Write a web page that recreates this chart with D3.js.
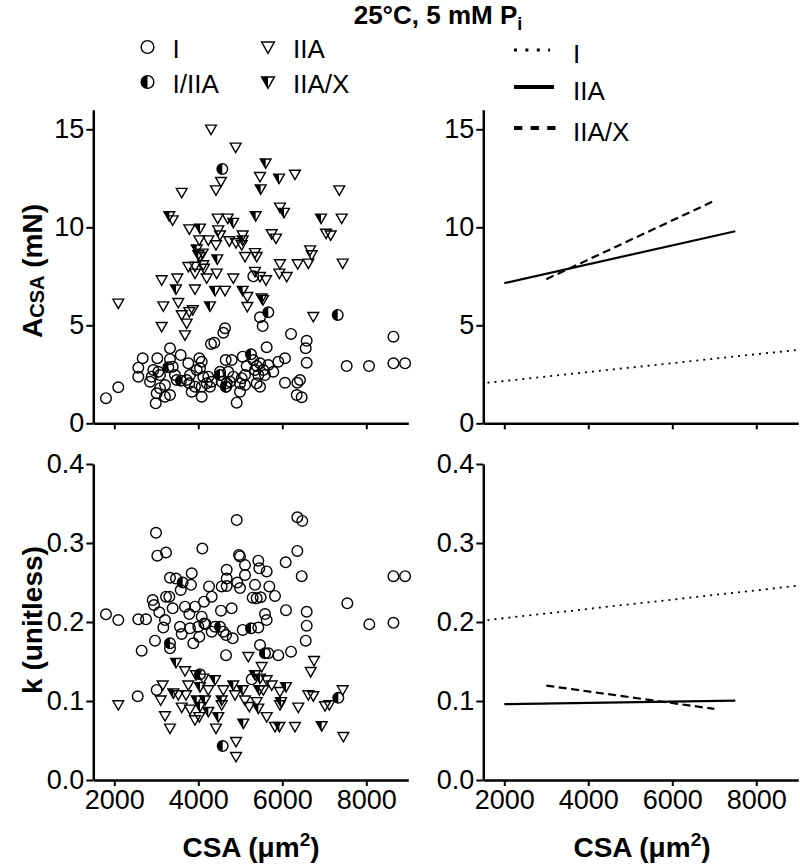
<!DOCTYPE html>
<html><head><meta charset="utf-8">
<script src="https://cdn.jsdelivr.net/npm/d3@7"></script>
<style>body{margin:0;background:#fff} svg text{font-family:'Liberation Sans',Arial,Helvetica,sans-serif;fill:#000}</style>
</head><body><svg id="c" width="800" height="865"></svg>
<script>
// ---------- data ----------
const xTicks = [2000, 4000, 6000, 8000];
const aTicks = [0, 5, 10, 15];
const kTicks = [0, 0.1, 0.2, 0.3, 0.4];

// A_CSA (mN) vs CSA
const aTypeI = [[1802,1.28],[2095,1.84],[2572,2.84],[2572,2.38],[2676,3.32],[2850,2.12],[2890,2.38],[2929,2.72],[2986,1.02],[3009,1.53],[3024,3.32],[3048,2.63],[3088,2.46],[3088,1.79],[3207,1.95],[3207,1.36],[3326,3.83],[3326,3.27],[3326,1.44],[3390,2.89],[3445,2.46],[3486,2.21],[3581,3.48],[3723,2.21],[3762,3.06],[3786,2.04],[3802,2.46],[3843,1.61],[3921,1.87],[3962,2.72],[4024,3.32],[4040,2.81],[4081,3.14],[4081,1.87],[4081,1.36],[4119,2.38],[4200,2.04],[4238,2.38],[4278,1.87],[4302,4.05],[4319,2.12],[4381,4.11],[4517,2.63],[4557,2.12],[4596,4.62],[4636,4.85],[4652,3.23],[4660,1.87],[4676,2.04],[4714,2.63],[4755,2.12],[4795,3.23],[4833,2.38],[4914,1.05],[4993,1.61],[4993,2.04],[5033,2.3],[5057,3.4],[5112,2.46],[5112,1.95],[5152,2.92],[5310,3.23],[5310,7.5],[5350,2.72],[5390,2.92],[5390,2.04],[5429,2.46],[5469,5.41],[5469,3.06],[5469,1.87],[5533,4.96],[5548,2.72],[5588,2.46],[5628,3.88],[5667,2.97],[5786,2.63],[5905,3.14],[6064,3.32],[6064,2.07],[6208,4.56],[6343,1.44],[6358,2.07],[6421,2.21],[6462,1.33],[6557,3.83],[6581,4.21],[6581,3.09],[7533,2.92],[8064,2.92],[8646,4.42],[8646,3.06],[8924,3.06]];
const aIIA = [[2095,6.12],[3128,7.31],[3128,4.93],[3167,5.98],[3390,10.37],[3500,7.4],[3524,6.15],[3605,11.77],[3605,5.53],[3683,4.5],[3723,5.1],[3762,7.99],[3786,9.91],[3786,5.69],[3867,5.78],[3921,8.0],[3921,7.65],[3921,6.84],[4024,9.35],[4040,8.5],[4105,8.67],[4119,8.08],[4136,7.9],[4200,7.4],[4238,9.35],[4302,15.0],[4421,11.9],[4421,9.1],[4438,7.65],[4462,10.46],[4476,9.86],[4517,9.6],[4540,12.33],[4636,6.77],[4700,10.46],[4738,9.3],[4833,7.4],[4890,14.08],[4898,9.2],[5033,9.1],[5057,9.6],[5112,8.5],[5167,6.46],[5167,5.95],[5350,8.7],[5350,7.74],[5390,8.5],[5469,12.58],[5469,7.48],[5509,6.38],[5612,7.31],[5748,9.66],[5850,9.44],[5930,7.65],[5945,11.02],[5945,8.13],[6105,7.48],[6302,12.7],[6367,8.13],[6620,8.16],[6662,8.84],[6700,8.59],[6738,5.44],[7041,9.69],[7152,9.6],[7357,11.9],[7414,10.46],[7438,8.16]];
const aIIAX = [[3310,10.58],[3469,6.84],[3962,8.88],[4000,8.59],[4040,9.95],[4278,5.98],[4398,6.77],[4452,8.38],[4833,10.24],[5057,9.35],[5057,6.77],[5366,10.58],[5485,11.95],[5540,6.3],[5604,13.27],[5922,12.5],[6040,10.75],[6922,10.46]];
const aIIIA = [[3286,2.86],[3588,2.17],[4517,2.46],[4572,12.97],[4660,1.87],[5255,3.52],[5667,5.66],[7319,5.53]];

// k (unitless) vs CSA
const kTypeI = [[1802,0.2097],[2095,0.2025],[2557,0.106],[2572,0.2034],[2652,0.1637],[2755,0.2034],[2914,0.2278],[2945,0.2215],[2969,0.1764],[2993,0.313],[3009,0.114],[3024,0.284],[3072,0.2122],[3167,0.193],[3207,0.2025],[3231,0.288],[3231,0.232],[3310,0.232],[3326,0.256],[3326,0.1667],[3390,0.2173],[3469,0.255],[3564,0.194],[3581,0.2405],[3605,0.1848],[3683,0.2194],[3786,0.21],[3802,0.192],[3826,0.247],[3843,0.2616],[3881,0.173],[3921,0.2194],[4000,0.194],[4024,0.1814],[4081,0.2067],[4096,0.293],[4136,0.2257],[4143,0.198],[4176,0.1975],[4255,0.245],[4319,0.232],[4319,0.1877],[4398,0.194],[4540,0.2143],[4557,0.245],[4596,0.1877],[4660,0.1835],[4660,0.158],[4676,0.266],[4676,0.255],[4676,0.2456],[4795,0.2173],[4819,0.1793],[4914,0.329],[4929,0.25],[4969,0.2848],[4993,0.283],[4993,0.243],[5057,0.19],[5112,0.272],[5112,0.2595],[5271,0.1274],[5295,0.2308],[5350,0.247],[5390,0.23],[5429,0.2776],[5429,0.193],[5453,0.268],[5469,0.1709],[5485,0.2313],[5588,0.21],[5628,0.264],[5628,0.2025],[5667,0.1604],[5691,0.245],[5826,0.233],[5905,0.158],[6081,0.2755],[6088,0.215],[6208,0.1624],[6358,0.3325],[6358,0.29],[6462,0.258],[6476,0.328],[6557,0.1764],[6581,0.213],[6581,0.1953],[7548,0.2236],[8072,0.197],[8646,0.258],[8924,0.258],[8646,0.199]];
const kIIA = [[2095,0.095],[3104,0.101],[3152,0.12],[3207,0.081],[3326,0.0654],[3524,0.1076],[3605,0.092],[3683,0.138],[3707,0.1076],[3762,0.12],[3802,0.0895],[3921,0.076],[3945,0.133],[4024,0.08],[4119,0.1287],[4238,0.114],[4421,0.0654],[4557,0.095],[4596,0.114],[4874,0.1076],[4898,0.0485],[4898,0.0295],[5112,0.101],[5191,0.156],[5215,0.0928],[5390,0.099],[5509,0.1434],[5548,0.114],[5628,0.1266],[5628,0.08],[5748,0.12],[5826,0.0675],[5945,0.1118],[5945,0.095],[6302,0.0675],[6381,0.092],[6620,0.1076],[6676,0.137],[6738,0.1063],[6755,0.151],[7017,0.0937],[7120,0.095],[7438,0.114],[7453,0.0548]];
const kIIAX = [[3405,0.11],[3469,0.1485],[3962,0.101],[4040,0.118],[4040,0.0928],[4160,0.101],[4238,0.0865],[4398,0.1266],[4476,0.08],[4557,0.101],[4833,0.12],[5057,0.114],[5072,0.0718],[5350,0.133],[5429,0.0907],[5453,0.114],[5469,0.1287],[5930,0.0675],[5969,0.099],[6088,0.118],[6938,0.0684]];
const kIIIA = [[3326,0.173],[3628,0.25],[4040,0.134],[4517,0.194],[4581,0.043],[5255,0.192],[5588,0.1604],[7334,0.104]];

// regression lines (endpoints)
const aFitI = [[1600,2.07],[9000,3.75]];
const aFitIIA = [[2000,7.15],[7500,9.8]];
const aFitIIAX = [[3000,7.35],[7000,11.35]];
const kFitI = [[1600,0.2025],[9000,0.246]];
const kFitIIA = [[2000,0.096],[7500,0.1005]];
const kFitIIAX = [[3000,0.1195],[7000,0.09]];

// ---------- drawing ----------
const svg = d3.select("#c");
const xL = d3.scaleLinear().domain([1500, 9000]).range([93.3, 408.3]);
const xR = d3.scaleLinear().domain([1500, 9000]).range([483.3, 798.3]);
const yA = d3.scaleLinear().domain([0, 16]).range([423.3, 109.7]);
const yK = d3.scaleLinear().domain([0, 0.4]).range([780, 464]);

function drawAxes(x, y, yTicks, yFmt, xLabels) {
  const gx = svg.append("g").attr("transform", `translate(0,${y.range()[0]})`)
    .call(d3.axisBottom(x).tickValues(xTicks).tickSize(6).tickSizeOuter(0).tickPadding(4)
      .tickFormat(xLabels ? d3.format("d") : () => ""));
  const gy = svg.append("g").attr("transform", `translate(${x.range()[0]},0)`)
    .call(d3.axisLeft(y).tickValues(yTicks).tickSize(7).tickSizeOuter(0).tickPadding(2).tickFormat(yFmt));
  [gx, gy].forEach(g => {
    g.select(".domain").attr("stroke", "#000").attr("stroke-width", 2.5);
    g.selectAll(".tick line").attr("stroke", "#000").attr("stroke-width", 2);
    g.selectAll(".tick text").attr("font-size", 27).attr("font-family", "'Liberation Sans',Arial,sans-serif").attr("fill", "#000");
  });
}
drawAxes(xL, yA, aTicks, d3.format("d"), false);
drawAxes(xR, yA, aTicks, d3.format("d"), false);
drawAxes(xL, yK, kTicks, d3.format(".1f"), true);
drawAxes(xR, yK, kTicks, d3.format(".1f"), true);

const R = 5.3;
const triPath = "M-5.4,-4.2L5.4,-4.2L0,5.2Z";
const triLeft = "M-5.4,-4.2L0,-4.2L0,5.2Z";
const halfCirc = `M0,${-R}A${R},${R} 0 0 0 0,${R}Z`;

function marker(g, type, scale) {
  const s = scale || 1;
  const m = g.append("g").attr("transform", `scale(${s})`);
  if (type === "I" || type === "I/IIA") {
    if (type === "I/IIA") m.append("path").attr("d", halfCirc).attr("fill", "#000");
    m.append("circle").attr("r", R).attr("fill", "none").attr("stroke", "#000").attr("stroke-width", 1.4 / s);
  } else {
    if (type === "IIA/X") m.append("path").attr("d", triLeft).attr("fill", "#000");
    m.append("path").attr("d", triPath).attr("fill", "none").attr("stroke", "#000").attr("stroke-width", 1.4 / s).attr("stroke-linejoin", "miter");
  }
}

function drawPts(x, y, data, type) {
  const g = svg.append("g");
  g.selectAll("g.pt").data(data).join("g").attr("class", "pt")
    .attr("transform", d => `translate(${x(d[0])},${y(d[1])})`)
    .each(function () { marker(d3.select(this), type); });
}
drawPts(xL, yA, aTypeI, "I");
drawPts(xL, yA, aIIA, "IIA");
drawPts(xL, yA, aIIAX, "IIA/X");
drawPts(xL, yA, aIIIA, "I/IIA");
drawPts(xL, yK, kTypeI, "I");
drawPts(xL, yK, kIIA, "IIA");
drawPts(xL, yK, kIIAX, "IIA/X");
drawPts(xL, yK, kIIIA, "I/IIA");

const styles = {
  I: { w: 1.8, dash: "2,5" },
  IIA: { w: 2.2, dash: null },
  "IIA/X": { w: 2.2, dash: "8,4.5" }
};
function fitLine(x, y, data, type) {
  const line = d3.line().x(d => x(d[0])).y(d => y(d[1]));
  svg.append("path").datum(data).attr("d", line).attr("fill", "none").attr("stroke", "#000")
    .attr("stroke-width", styles[type].w).attr("stroke-dasharray", styles[type].dash);
}
fitLine(xR, yA, aFitI, "I");
fitLine(xR, yA, aFitIIA, "IIA");
fitLine(xR, yA, aFitIIAX, "IIA/X");
fitLine(xR, yK, kFitI, "I");
fitLine(xR, yK, kFitIIA, "IIA");
fitLine(xR, yK, kFitIIAX, "IIA/X");

// ---------- title ----------
const title = svg.append("text").attr("x", 438).attr("y", 24).attr("text-anchor", "middle")
  .attr("font-size", 26).attr("font-weight", "bold");
title.append("tspan").text("25°C, 5 mM P");
title.append("tspan").attr("font-size", 18).attr("dy", 6).text("i");

// ---------- legends ----------
const legLeft = [
  { label: "I", type: "I", x: 147.5, y: 47 },
  { label: "I/IIA", type: "I/IIA", x: 147.5, y: 82 },
  { label: "IIA", type: "IIA", x: 268, y: 47 },
  { label: "IIA/X", type: "IIA/X", x: 268, y: 82 }
];
legLeft.forEach(d => {
  const g = svg.append("g").attr("transform", `translate(${d.x},${d.y})`);
  marker(g, d.type, 1.2);
  svg.append("text").attr("x", d.x + 25).attr("y", d.y + 10.5).attr("font-size", 26).text(d.label);
});
const legRight = [
  { label: "I", type: "I", y: 50, dash: "3,8.4", w: 3, x2: 550 },
  { label: "IIA", type: "IIA", y: 87, dash: null, w: 4, x2: 554 },
  { label: "IIA/X", type: "IIA/X", y: 128, dash: "8.3,8.3", w: 4, x2: 557 }
];
legRight.forEach(d => {
  svg.append("line").attr("x1", 514).attr("x2", d.x2).attr("y1", d.y).attr("y2", d.y)
    .attr("stroke", "#000").attr("stroke-width", d.w).attr("stroke-dasharray", d.dash);
  svg.append("text").attr("x", 573).attr("y", d.y + 12.5).attr("font-size", 26).text(d.label);
});

// ---------- axis titles ----------
function xTitle(cx) {
  const t = svg.append("text").attr("x", cx).attr("y", 857).attr("text-anchor", "middle")
    .attr("font-size", 28).attr("font-weight", "bold");
  t.append("tspan").text("CSA (μm");
  t.append("tspan").attr("font-size", 19).attr("dy", -11).text("2");
  t.append("tspan").attr("dy", 11).text(")");
}
xTitle(251);
xTitle(642);

const yt1 = svg.append("text").attr("transform", "translate(42,271) rotate(-90)").attr("text-anchor", "middle")
  .attr("font-size", 28).attr("font-weight", "bold");
yt1.append("tspan").text("A");
yt1.append("tspan").attr("font-size", 20).attr("dy", 2).text("CSA");
yt1.append("tspan").attr("dy", -2).text(" (mN)");

svg.append("text").attr("transform", "translate(42,620) rotate(-90)").attr("text-anchor", "middle")
  .attr("font-size", 28).attr("font-weight", "bold").text("k (unitless)");
</script>
</body></html>
